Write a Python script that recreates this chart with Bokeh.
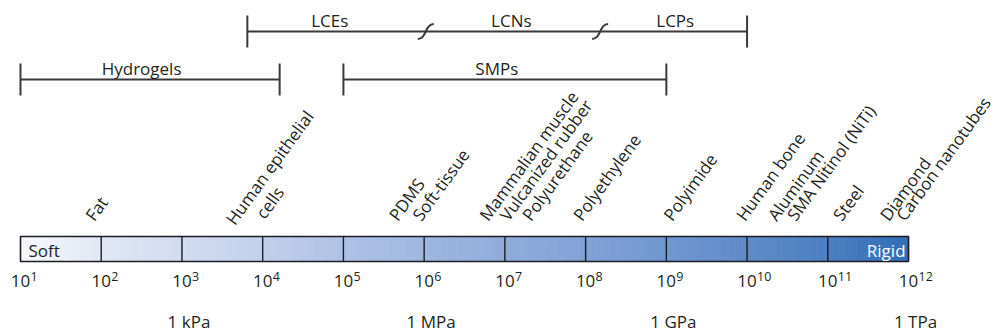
import numpy as np
from bokeh.plotting import figure
from bokeh.models import Range1d
from bokeh.embed import file_html
from bokeh.resources import INLINE
from bokeh.core.properties import value

# ---------------- data ----------------
decade_exponents = [1, 2, 3, 4, 5, 6, 7, 8, 9, 10, 11, 12]
exponent_labels = ["1", "2", "3", "4", "5", "6", "7", "8", "9", "10", "11", "12"]

unit_exponents = [3, 6, 9, 12]
unit_labels = ["1 kPa", "1 MPa", "1 GPa", "1 TPa"]

material_labels = ["Fat", "Human epithelial", "cells", "PDMS", "Soft-tissue",
                   "Mammalian muscle", "Vulcanized rubber", "Polyurethane",
                   "Polyethylene", "Polyimide", "Human bone", "Aluminum",
                   "SMA Nitinol (NiTi)", "Steel", "Diamond", "Carbon nanotubes"]
material_log_modulus = [1.92, 3.66, 4.03, 5.68, 5.97, 6.80, 7.05, 7.33, 7.96,
                        9.08, 9.98, 10.37, 10.61, 11.18, 11.76, 11.96]

bracket_names = ["Hydrogels", "SMPs", "LC"]
bracket_start = [1.0, 5.0, 3.81]
bracket_end = [4.21, 9.0, 10.0]
bracket_row = [2, 2, 1]

class_labels = ["Hydrogels", "SMPs", "LCEs", "LCNs", "LCPs"]
class_label_pos = [2.5, 6.9, 4.83, 7.08, 9.11]
class_label_row = [2, 2, 1, 1, 1]

lc_break_pos = [6.02, 8.18]

# ---------------- layout / style ----------------
W, H = 998, 334
PX_DEC = 80.73          # pixels per decade
X0 = 20                 # pixel of 10^1
e_start = 1 - X0 / PX_DEC
e_end = 1 + (W - X0) / PX_DEC
BL = 0.4                # empirical baseline correction (em)

FONT = value("Open Sans")
TXT = "#231f20"
LINE = "#3a3a3a"

p = figure(width=W, height=H, x_axis_type="log",
           x_range=Range1d(10 ** e_start, 10 ** e_end),
           y_range=Range1d(H, 0),
           output_backend="svg", toolbar_location=None, min_border=0,
           outline_line_color=None, background_fill_color="white")
p.axis.visible = False
p.grid.visible = False

def ex(e):
    return 10 ** np.asarray(e, dtype=float)

# ---- gradient bar ----
bar_top, bar_bot = 236, 261
stop_e = [1, 2, 3, 4, 5, 6, 7, 8, 9, 10, 11, 12]
stop_c = ["#f7f8fc", "#e1e7f4", "#d1dcf0", "#c2d0eb", "#aec2e5", "#9fb7e0",
          "#90acdb", "#82a2d7", "#7097d0", "#5f8bc8", "#4c7fc1", "#316eb6"]
stop_rgb = np.array([[int(c[i:i + 2], 16) for i in (1, 3, 5)] for c in stop_c], float)
n_sub = 14
lefts, rights, cols = [], [], []
for i in range(len(decade_exponents) - 1):
    for j in range(n_sub):
        a = decade_exponents[i] + j / n_sub
        b = a + 1 / n_sub
        m = (a + b) / 2
        rgb = [np.interp(m, stop_e, stop_rgb[:, k]) for k in range(3)]
        lefts.append(a)
        rights.append(b)
        cols.append("#%02x%02x%02x" % tuple(int(round(v)) for v in rgb))
p.quad(left=ex(lefts), right=ex(rights), top=bar_top, bottom=bar_bot,
       fill_color=cols, line_color=cols, line_width=0.8)

p.segment(x0=ex(decade_exponents[1:-1]), x1=ex(decade_exponents[1:-1]),
          y0=bar_top, y1=bar_bot, line_color="#1c1c24", line_width=1.4)
p.quad(left=ex(decade_exponents[0]), right=ex(decade_exponents[-1]),
       top=bar_top, bottom=bar_bot, fill_color=None,
       line_color="#1c1c24", line_width=1.6)

p.text(x=[ex(decade_exponents[0] + 8 / PX_DEC)], y=[256.5 - BL * 17], text=["Soft"],
       text_font=FONT, text_font_size="17px", text_color=TXT,
       text_align="left", text_baseline="alphabetic")
p.text(x=[ex(decade_exponents[-1] - 3 / PX_DEC)], y=[256.5 - BL * 17], text=["Rigid"],
       text_font=FONT, text_font_size="17px", text_color="white",
       text_align="right", text_baseline="alphabetic")

# ---- tick labels 10^n ----
n = len(decade_exponents)
p.text(x=ex(decade_exponents), y=[287 - BL * 17] * n,
       text=["10"] * n, text_font=FONT,
       text_font_size="17px", text_color=TXT, text_align="center",
       text_baseline="alphabetic")
p.text(x=ex(np.array(decade_exponents) + 10 / PX_DEC), y=[271] * n,
       text=exponent_labels, text_font=FONT,
       text_font_size="12.5px", text_color=TXT, text_align="left",
       text_baseline="top")

# ---- unit labels ----
p.text(x=ex(np.array(unit_exponents) + 7 / PX_DEC), y=[328 - BL * 17] * len(unit_exponents),
       text=unit_labels, text_font=FONT, text_font_size="17px", text_color=TXT,
       text_align="center", text_baseline="alphabetic")

# ---- material labels (rotated) ----
theta = np.deg2rad(54)
fs = 17
sh = BL * fs
mat_y = [222.0] * len(material_labels)
mat_y[1] = 226.0
mat_y[2] = 220.0
mat_x = np.array(material_log_modulus) - sh * np.sin(theta) / PX_DEC
mat_y = np.array(mat_y) - sh * np.cos(theta)
p.text(x=ex(mat_x), y=mat_y, text=material_labels,
       angle=theta, text_font=FONT, text_font_size="%.1fpx" % fs,
       text_color=TXT, text_align="left", text_baseline="alphabetic")

# ---- brackets ----
row_line_y = {1: 31, 2: 79}
row_text_y = {1: 27, 2: 75}
tick_half = 16
for s, e, r in zip(bracket_start, bracket_end, bracket_row):
    y = row_line_y[r]
    p.segment(x0=[ex(s)], x1=[ex(e)], y0=[y], y1=[y], line_color=LINE, line_width=2)
    p.segment(x0=ex([s, e]), x1=ex([s, e]), y0=[y - tick_half] * 2,
              y1=[y + tick_half] * 2, line_color=LINE, line_width=2)

p.text(x=ex(class_label_pos), y=[row_text_y[r] - BL * 17 for r in class_label_row],
       text=class_labels, text_font=FONT, text_font_size="17px",
       text_color=TXT, text_align="center", text_baseline="alphabetic")

yb = row_line_y[1]
bx = np.array(lc_break_pos)
dx = 8 / PX_DEC
p.bezier(x0=ex(bx - dx), y0=[yb + 7.5] * len(bx), x1=ex(bx + dx), y1=[yb - 7.5] * len(bx),
         cx0=ex(bx + 1 / PX_DEC), cy0=[yb + 7.5] * len(bx),
         cx1=ex(bx - 1 / PX_DEC), cy1=[yb - 7.5] * len(bx),
         line_color=LINE, line_width=2)

open("out.html", "w").write(file_html(p, INLINE))
